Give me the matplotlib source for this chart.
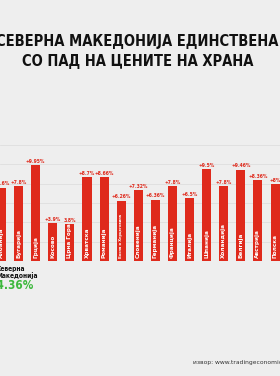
import matplotlib
matplotlib.use("Agg")
import matplotlib.pyplot as plt

countries = ["Албанија", "Бугарија", "Грција", "Косово", "Црна Гора", "Хрватска",
             "Романија", "Босна и Херцеговина", "Словенија", "Германија", "Франција",
             "Италија", "Шпанија", "Холандија", "Белгија", "Австрија", "Полска"]
values = [7.6, 7.8, 9.95, 3.9, 3.8, 8.7, 8.66, 6.26, 7.32, 6.36, 7.8, 6.5, 9.5, 7.8, 9.46, 8.36, 8.0]
labels = ["+7.6%", "+7.8%", "+9.95%", "+3.9%", "3.8%", "+8.7%", "+8.66%", "+6.26%",
          "+7.32%", "+6.36%", "+7.8%", "+6.5%", "+9.5%", "+7.8%", "+9.46%", "+8.36%", "+8%"]
yticks = [0, 2, 4, 6, 8, 10, 12]

title = "СЕВЕРНА МАКЕДОНИЈА ЕДИНСТВЕНА\nСО ПАД НА ЦЕНИТЕ НА ХРАНА"
mk_name = "Северна\nМакедонија"
mk_value = "-4.36%"
source = "извор: www.tradingeconomics.com"

bg = "#eeeeee"
red = "#df2a1c"
cond = dict(family="DejaVu Sans", stretch="condensed")
fig = plt.figure(figsize=(2.8, 3.76), dpi=100, facecolor=bg)

ax = fig.add_axes([0, 0.306, 1, 0.308])
ax.set_facecolor("none")
x = list(range(len(values)))
ax.bar(x, values, width=0.53, color=red, zorder=3)
ax.set_xlim(-0.088, 16.29)
ax.set_ylim(0, 12)
ax.set_yticks(yticks)
ax.grid(axis="y", color="#dadada", linewidth=0.5, zorder=0)
ax.tick_params(left=False, bottom=False, labelleft=False, labelbottom=False)
for s in ax.spines.values():
    s.set_visible(False)

for xi, v, lab, c in zip(x, values, labels, countries):
    ax.text(xi, v + 0.12, lab, ha="center", va="bottom", fontsize=3.6,
            color=red, fontweight="bold", zorder=4, **cond)
    ax.text(xi, 0.35, c, ha="center", va="bottom", rotation=90,
            fontsize=4.6 if len(c) < 12 else 2.9, color="white",
            fontweight="bold", zorder=4, **cond)

fig.text(0.49, 0.863, title, ha="center", va="center", fontsize=10.5,
         fontweight="bold", color="#111111", linespacing=1.35, **cond)

fig.text(-0.012, 0.293, mk_name, ha="left", va="top", fontsize=4.8,
         fontweight="bold", color="#111111", linespacing=1.1, **cond)
fig.text(-0.028, 0.242, mk_value, ha="left", va="center", fontsize=8.5,
         fontweight="bold", color="#3cb83c", **cond)

fig.text(0.69, 0.037, source, ha="left", va="center", fontsize=4.3,
         color="#333333")

fig.savefig("out.png", dpi=100, facecolor=bg)
